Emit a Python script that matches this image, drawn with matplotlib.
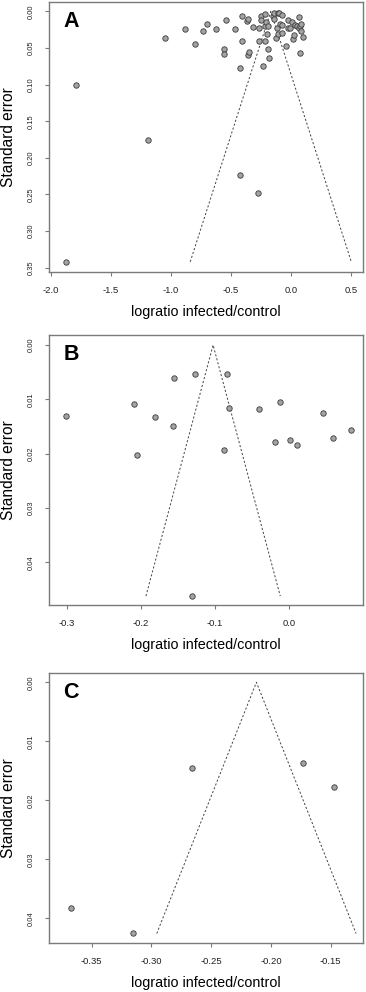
import matplotlib
matplotlib.use("Agg")
import matplotlib.pyplot as plt
import numpy as np

plt.rcParams['font.family'] = ['Liberation Sans', 'DejaVu Sans']

# Panel A: logratio (x) and standard error (y)
a_x = [-1.79, -1.05, -0.88, -0.80, -0.73, -0.695, -0.625, -0.556, -0.56, -0.54,
       -0.467, -0.425, -0.41, -0.41, -0.367, -0.356, -0.356, -0.35, -0.317, -0.27,
       -0.262, -0.25, -0.25, -0.233, -0.217, -0.212, -0.212, -0.208, -0.20, -0.19,
       -0.183, -0.192, -0.15, -0.139, -0.145, -0.128, -0.117, -0.11, -0.11, -0.10,
       -0.09, -0.075, -0.075, -0.072, -0.04, -0.025, -0.025, -0.006, 0.005, 0.013,
       0.022, 0.033, 0.05, 0.063, 0.067, 0.075, 0.078, 0.08, 0.097, 0.086,
       -1.19, -0.428, -0.278, -1.875]
a_se = [0.100, 0.036, 0.024, 0.044, 0.026, 0.017, 0.024, 0.051, 0.058, 0.012,
        0.024, 0.077, 0.040, 0.0055, 0.0136, 0.010, 0.060, 0.055, 0.021, 0.022,
        0.040, 0.0055, 0.011, 0.075, 0.020, 0.003, 0.040, 0.015, 0.031, 0.051,
        0.063, 0.020, 0.0055, 0.0014, 0.010, 0.036, 0.022, 0.002, 0.031, 0.002,
        0.017, 0.005, 0.030, 0.019, 0.047, 0.022, 0.012, 0.022, 0.015, 0.037,
        0.032, 0.018, 0.020, 0.007, 0.023, 0.020, 0.057, 0.027, 0.035, 0.017,
        0.176, 0.224, 0.248, 0.342]
a_center = -0.168

# Panel B
b_x = [-0.301, -0.209, -0.206, -0.181, -0.157, -0.155, -0.127, -0.088, -0.084, -0.081,
       -0.041, -0.019, -0.012, 0.0004, 0.010, 0.045, 0.059, 0.083, -0.1316]
b_se = [0.0131, 0.0109, 0.0202, 0.0133, 0.0149, 0.0060, 0.0053, 0.0193, 0.0054, 0.0115,
        0.0117, 0.0179, 0.0105, 0.0174, 0.0184, 0.0125, 0.0171, 0.0157, 0.0462]
b_center = -0.1028

# Panel C
c_x = [-0.2658, -0.1734, -0.147, -0.367, -0.3157]
c_se = [0.01458, 0.01373, 0.0177, 0.0383, 0.04254]
c_center = -0.2122

panels = [
    ('A', a_x, a_se, a_center, (-2.014, 0.60), (0.356, -0.013),
     [-2.0, -1.5, -1.0, -0.5, 0.0, 0.5], '{:.1f}',
     [0.0, 0.05, 0.10, 0.15, 0.20, 0.25, 0.30, 0.35]),
    ('B', b_x, b_se, b_center, (-0.324, 0.0993), (0.0479, -0.0019),
     [-0.3, -0.2, -0.1, 0.0], '{:.1f}',
     [0.0, 0.01, 0.02, 0.03, 0.04]),
    ('C', c_x, c_se, c_center, (-0.3857, -0.123), (0.0442, -0.00163),
     [-0.35, -0.30, -0.25, -0.20, -0.15], '{:.2f}',
     [0.0, 0.01, 0.02, 0.03, 0.04]),
]

# axes rectangles in figure fractions (left, bottom, width, height)
rects = [(0.1339, 0.7258, 0.858, 0.2722),
         (0.1339, 0.3898, 0.858, 0.2728),
         (0.1339, 0.0491, 0.858, 0.2728)]

fig = plt.figure(figsize=(3.66, 9.92), dpi=100)
grey = '#7a7a7a'

for (letter, xs, ses, ctr, xlim, ylim, xt, xfmt, yt), rect in zip(panels, rects):
    ax = fig.add_axes(rect)
    semax = max(ses)
    # funnel: pseudo 95% limits
    ax.plot([ctr - 1.96 * semax, ctr, ctr + 1.96 * semax], [semax, 0, semax],
            color='#444444', lw=0.7, dashes=(2.2, 2.0))
    ax.plot(xs, ses, 'o', ms=3.9, mfc='#a3a3a3', mec='#3a3a3a', mew=0.6,
            linestyle='none')
    ax.set_xlim(*xlim)
    ax.set_ylim(*ylim)
    ax.set_xticks(xt)
    ax.set_xticklabels([xfmt.format(v) for v in xt], fontsize=6.8, color='#222222')
    ax.set_yticks(yt)
    ax.set_yticklabels(['{:.2f}'.format(v) for v in yt], fontsize=5.4,
                       color='#222222', rotation=90, va='center')
    ax.tick_params(axis='both', direction='out', length=3, width=0.8, color=grey)
    ax.tick_params(axis='x', pad=7)
    ax.tick_params(axis='y', pad=7.5)
    for sp in ax.spines.values():
        sp.set_color(grey)
        sp.set_linewidth(1.0)
    ax.set_xlabel('logratio infected/control', fontsize=10.4, labelpad=7)
    ax.set_ylabel('Standard error', fontsize=11.2, labelpad=8)
    ax.text(0.045, 0.965, letter, transform=ax.transAxes, fontsize=15.5,
            fontweight='bold', ha='left', va='top')

fig.savefig('out.png', dpi=100)
